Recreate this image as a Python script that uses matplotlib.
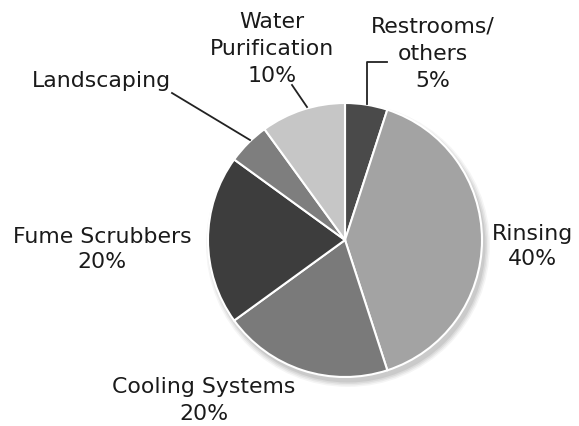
import matplotlib
matplotlib.use('Agg')
import matplotlib.pyplot as plt
from matplotlib.patches import Circle

# water use breakdown, clockwise from 12 o'clock
categories = ['Restrooms/\nothers', 'Rinsing', 'Cooling Systems', 'Fume Scrubbers',
              'Landscaping', 'Water\nPurification']
shares = [5, 40, 20, 20, 5, 10]
colors = ['#4a4a4a', '#a3a3a3', '#7a7a7a', '#3d3d3d', '#7e7e7e', '#c6c6c6']
show_pct = [True, True, True, True, False, True]

W, H = 579, 426
fig = plt.figure(figsize=(W / 100, H / 100), dpi=100)
ax = fig.add_axes([0, 0, 1, 1])

cx, cy, r = 345, H - 240, 137

# soft drop shadow under the pie
for i, a in enumerate([0.04, 0.05, 0.06, 0.07]):
    ax.add_patch(Circle((cx + 3, cy - 5), r + 5 - i * 1.5, color='black', alpha=a, lw=0, zorder=0))

ax.pie(shares, colors=colors, startangle=90, counterclock=False, center=(cx, cy), radius=r,
       wedgeprops=dict(edgecolor='white', linewidth=1.5), frame=True)
ax.set_xlim(0, W)
ax.set_ylim(0, H)
ax.set_aspect('equal')
ax.axis('off')

# label centre x and first-line baseline y (pixels from top), line step
label_pos = [(433, 33, 27), (532, 240, 25), (204, 393, 27), (102, 243, 25), (101, 87, 0), (272, 28, 27)]
for name, pct, show, (lx, ly, step) in zip(categories, shares, show_pct, label_pos):
    lines = name.split('\n') + (['%d%%' % pct] if show else [])
    for k, line in enumerate(lines):
        ax.text(lx, H - (ly + k * step), line, ha='center', va='baseline', fontsize=15.8,
                color='#1a1a1a', family='DejaVu Sans')

# leader lines
ax.plot([172, 250], [H - 93, H - 140], color='#222222', lw=1.3)
ax.plot([292, 307], [H - 85, H - 107], color='#222222', lw=1.3)
ax.plot([387, 367, 367], [H - 62, H - 62, H - 104], color='#222222', lw=1.3)

fig.savefig('out.png', dpi=100)
